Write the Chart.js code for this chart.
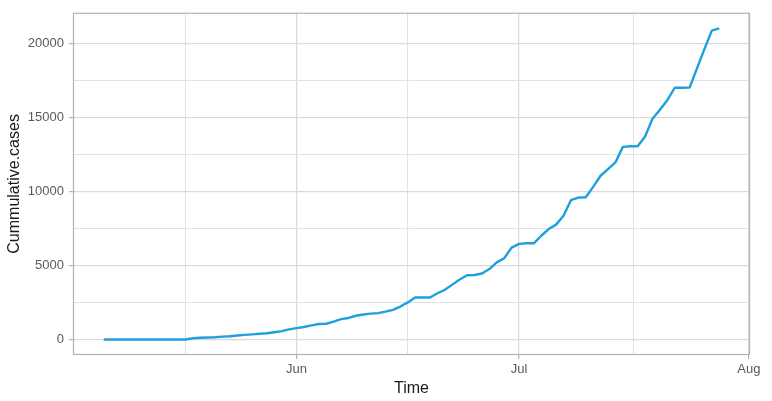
<!DOCTYPE html>
<html lang="en">
<head>
    <meta charset="UTF-8">
    <script src="https://cdn.jsdelivr.net/npm/chart.js"></script>
    <style>
        body {
            margin: 0;
            padding: 0;
            background: #ffffff;
        }
    </style>
    <title>Cummulative cases</title>
</head>
<body>
    <canvas id="casesChart" width="772" height="401"></canvas>
    <script>
        // day number counted from May 1 (May 1 = 0, Jun 1 = 31, Jul 1 = 61, Aug 1 = 92)
        const days = [
            5, 6, 7, 8, 9, 10, 11, 12, 13, 14, 15, 16,
            17, 18, 19, 20, 21, 22, 23, 24, 25, 26, 27, 28, 29, 30,
            31, 32, 33, 34, 35, 36, 37, 38, 39, 40, 41, 42, 43, 44, 45, 46,
            47, 48, 49, 50, 51, 52, 53, 54, 55, 56, 57, 58, 59, 60,
            61, 62, 63, 64, 65, 66, 67, 68, 69, 70, 71, 72, 73, 74,
            75, 76, 77, 78, 79, 80, 81, 82, 83, 84, 85, 86, 87, 88
        ];
        const cases = [
            0, 0, 0, 0, 0, 0, 0, 0, 0, 0, 0, 0,
            80, 110, 130, 150, 190, 220, 270, 310, 340, 380, 420, 490, 560, 680,
            760, 840, 950, 1040, 1060, 1200, 1370, 1450, 1600, 1680, 1740, 1780, 1880, 2000, 2220, 2500,
            2830, 2830, 2830, 3120, 3350, 3700, 4050, 4330, 4350, 4450, 4750, 5200, 5480, 6200,
            6450, 6490, 6490, 7000, 7450, 7750, 8350, 9400, 9580, 9600, 10300, 11050, 11500, 11950,
            13000, 13040, 13040, 13700, 14900, 15500, 16150, 16990, 16990, 17000, 18300, 19600, 20850, 21000
        ];

        const monthDays = [31, 61, 92];
        const monthLabels = ["Jun", "Jul", "Aug"];
        const minorDays = [16, 46, 76.5];

        const yMajor = [0, 5000, 10000, 15000, 20000];
        const yMinor = [2500, 7500, 12500, 17500];

        const gridMajor = "#d9d9d9";
        const gridMinor = "#e2e2e2";
        const frameColor = "#b3b3b3";

        const panelFrame = {
            id: "panelFrame",
            afterDraw(chart) {
                const { ctx, chartArea } = chart;
                ctx.save();
                ctx.strokeStyle = frameColor;
                ctx.lineWidth = 1.2;
                ctx.strokeRect(chartArea.left + 0.5, chartArea.top + 0.5,
                    chartArea.right - chartArea.left - 1, chartArea.bottom - chartArea.top - 1);
                ctx.restore();
            }
        };

        function isMajor(list, v) {
            return list.indexOf(v) !== -1;
        }

        new Chart(document.getElementById("casesChart"), {
            type: "line",
            data: {
                datasets: [{
                    data: days.map((d, i) => ({ x: d, y: cases[i] })),
                    borderColor: "#1fa0dc",
                    borderWidth: 2.4,
                    pointRadius: 0,
                    tension: 0,
                    fill: false,
                    borderJoinStyle: "round"
                }]
            },
            options: {
                responsive: false,
                animation: false,
                layout: { padding: { top: 12, right: 22, left: 0, bottom: 0 } },
                plugins: {
                    legend: { display: false },
                    tooltip: { enabled: false }
                },
                scales: {
                    x: {
                        type: "linear",
                        min: 0.85,
                        max: 92.15,
                        border: { display: false },
                        afterBuildTicks: (scale) => {
                            scale.ticks = minorDays.concat(monthDays).sort((a, b) => a - b).map(v => ({ value: v }));
                        },
                        afterFit: (scale) => { scale.height = 46; },
                        grid: {
                            color: (ctx) => isMajor(monthDays, ctx.tick.value) ? gridMajor : gridMinor,
                            lineWidth: (ctx) => isMajor(monthDays, ctx.tick.value) ? 1.2 : 1,
                            tickLength: 4,
                            tickColor: (ctx) => isMajor(monthDays, ctx.tick.value) ? frameColor : "rgba(0,0,0,0)"
                        },
                        ticks: {
                            autoSkip: false,
                            maxRotation: 0,
                            padding: 3,
                            color: "#5a5a5a",
                            font: { family: "'Liberation Sans', Arial, sans-serif", size: 13 },
                            callback: (v) => {
                                const k = monthDays.indexOf(v);
                                return k === -1 ? "" : monthLabels[k];
                            }
                        },
                        title: {
                            display: true,
                            text: "Time",
                            color: "#1a1a1a",
                            padding: { top: 0, bottom: 3 },
                            font: { family: "'Liberation Sans', Arial, sans-serif", size: 16 }
                        }
                    },
                    y: {
                        min: -1050,
                        max: 22050,
                        border: { display: false },
                        afterBuildTicks: (scale) => {
                            scale.ticks = yMajor.concat(yMinor).sort((a, b) => a - b).map(v => ({ value: v }));
                        },
                        afterFit: (scale) => { scale.width = 73; },
                        grid: {
                            color: (ctx) => isMajor(yMajor, ctx.tick.value) ? gridMajor : gridMinor,
                            lineWidth: (ctx) => isMajor(yMajor, ctx.tick.value) ? 1.2 : 1,
                            tickLength: 4,
                            tickColor: (ctx) => isMajor(yMajor, ctx.tick.value) ? frameColor : "rgba(0,0,0,0)"
                        },
                        ticks: {
                            autoSkip: false,
                            padding: 5,
                            color: "#5a5a5a",
                            font: { family: "'Liberation Sans', Arial, sans-serif", size: 13 },
                            callback: (v) => isMajor(yMajor, v) ? String(v) : ""
                        },
                        title: {
                            display: true,
                            text: "Cummulative.cases",
                            color: "#1a1a1a",
                            padding: { top: 5, bottom: 0 },
                            font: { family: "'Liberation Sans', Arial, sans-serif", size: 16 }
                        }
                    }
                }
            },
            plugins: [panelFrame]
        });
    </script>
</body>
</html>
